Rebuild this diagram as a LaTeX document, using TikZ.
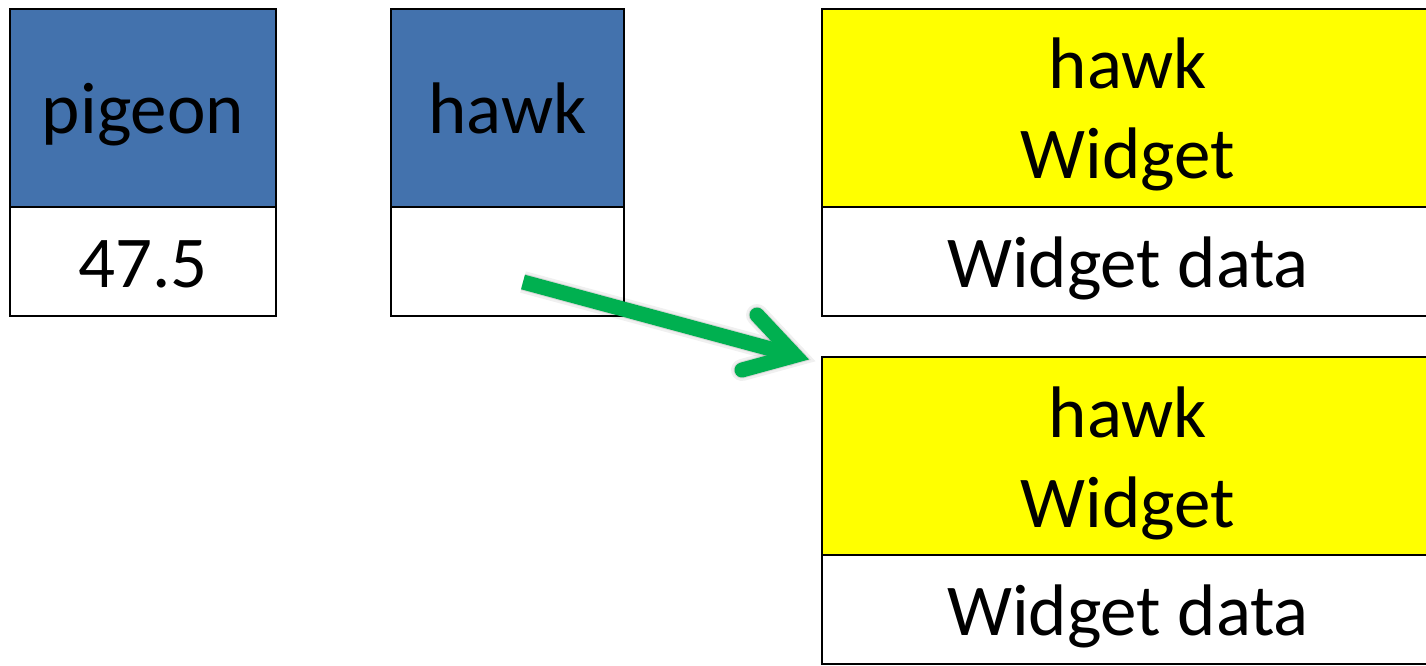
\documentclass[tikz,border=0pt]{standalone}
\usepackage{fontspec}
\setmainfont{Carlito}
\definecolor{keyblue}{RGB}{67,114,173}
\definecolor{objyellow}{RGB}{255,255,0}
\definecolor{ptrgreen}{RGB}{0,176,80}
\begin{document}
\begin{tikzpicture}[x=1pt,y=-1pt,
  cell/.style={draw=black, line width=2.6pt, inner sep=0pt, outer sep=0pt},
  keycell/.style={cell, fill=keyblue, minimum height=198pt},
  objcell/.style={cell, fill=objyellow, minimum height=198pt},
  valcell/.style={cell, fill=white, minimum height=109pt},
  lbl/.style={anchor=base, inner sep=0pt, font=\fontsize{73}{88}\selectfont},
  shaft/.style={line width=15pt, line cap=butt},
  barb/.style={line width=15pt, line cap=round, line join=miter}
]
\useasboundingbox (0,0) rectangle (1426,665);
\clip (0,0) rectangle (1426,665);

% variable "pigeon" holding a plain value
\node[keycell, minimum width=266pt] (pigeonKey) at (143,108) {};
\node[valcell, minimum width=266pt] (pigeonVal) at (143,261.5) {};
\node[lbl] (pigeonName) at (143,133) {pigeon};
\node[lbl] (pigeonNum) at (143,287) {47.5};

% variable "hawk" holding a reference
\node[keycell, minimum width=233pt] (hawkKey) at (507.5,108) {};
\node[valcell, minimum width=233pt] (hawkVal) at (507.5,261.5) {};
\node[lbl] (hawkName) at (507.5,133) {hawk};

% first Widget object
\node[objcell, minimum width=612pt] (objA) at (1128,108) {};
\node[valcell, minimum width=612pt] (objAData) at (1128,261.5) {};
\node[lbl] (objAName) at (1128,88) {hawk};
\node[lbl] (objAType) at (1128,178) {Widget};
\node[lbl] (objADataTxt) at (1128,287) {Widget data};

% second Widget object
\node[objcell, minimum width=612pt] (objB) at (1128,456) {};
\node[valcell, minimum width=612pt] (objBData) at (1128,609.5) {};
\node[lbl] (objBName) at (1128,437) {hawk};
\node[lbl] (objBType) at (1128,527) {Widget};
\node[lbl] (objBDataTxt) at (1128,635) {Widget data};

% reference arrow from hawk's value cell to the second object
\coordinate (ptr) at (523,282);
\coordinate (tip) at (795,355.5);
\coordinate (barbUp) at (757,315);
\coordinate (barbLow) at (742,370);
\begin{scope}[shift={(3,7)}, draw=black]
  \draw[shaft, line width=22pt, opacity=0.06] (ptr) -- (tip);
  \draw[barb, line width=22pt, opacity=0.06] (barbUp) -- (tip) -- (barbLow);
  \draw[shaft, line width=17pt, opacity=0.10] (ptr) -- (tip);
  \draw[barb, line width=17pt, opacity=0.10] (barbUp) -- (tip) -- (barbLow);
\end{scope}
\draw[shaft, draw=ptrgreen] (ptr) -- (tip);
\draw[barb, draw=ptrgreen] (barbUp) -- (tip) -- (barbLow);
\end{tikzpicture}
\end{document}
